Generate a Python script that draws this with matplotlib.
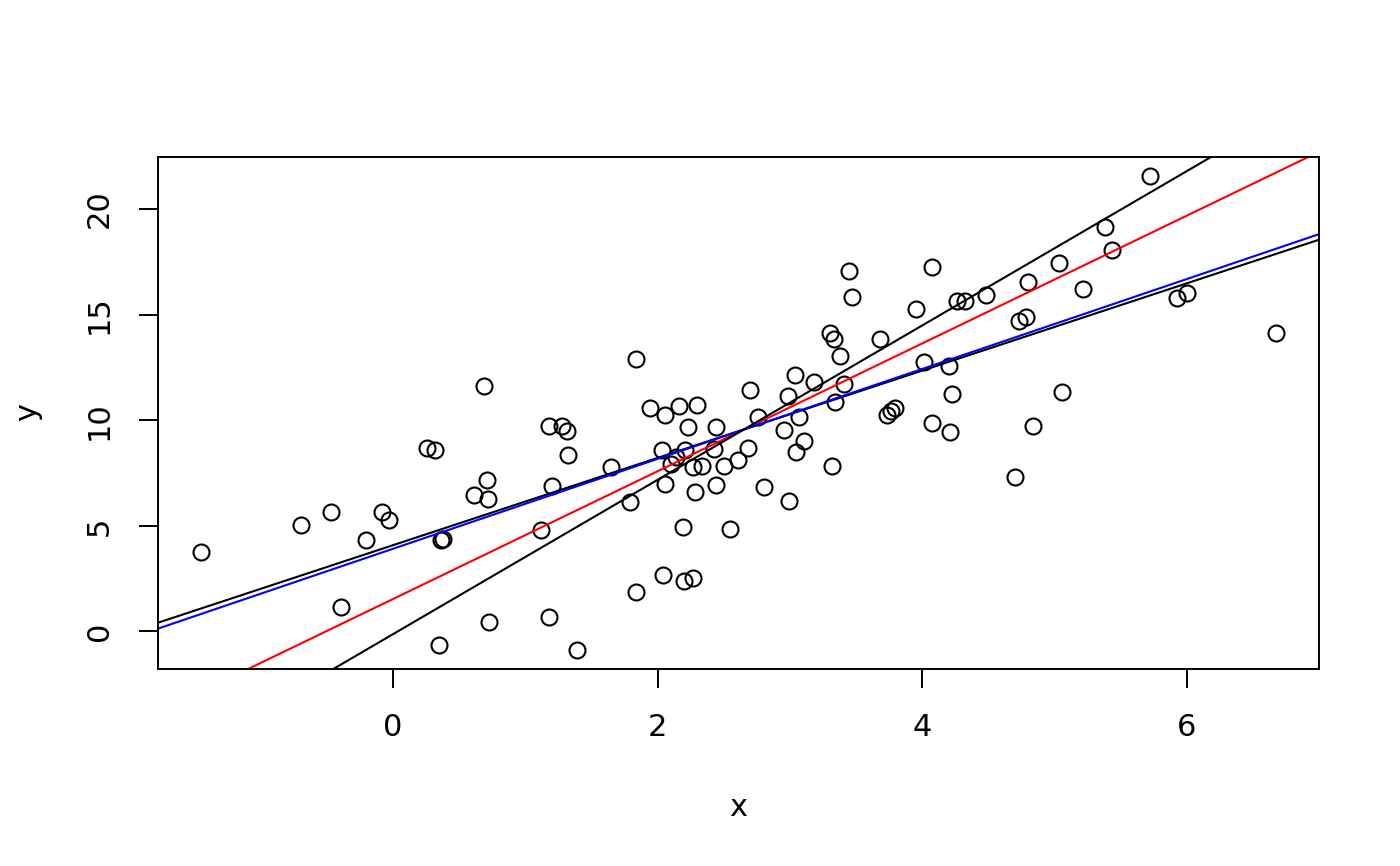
import numpy as np
import matplotlib
matplotlib.use("Agg")
import matplotlib.pyplot as plt

# scatter data
x = np.array([
    -1.449, -0.694, -0.468, -0.395, -0.206, -0.085, -0.030, 0.262, 0.322, 0.347,
    0.366, 0.381, 0.614, 0.687, 0.715, 0.719, 0.730, 1.117, 1.183, 1.177,
    1.202, 1.281, 1.318, 1.326, 1.389, 1.651, 1.791, 1.834, 1.834, 1.942,
    2.030, 2.043, 2.053, 2.060, 2.098, 2.143, 2.161, 2.194, 2.198, 2.211,
    2.229, 2.269, 2.269, 2.282, 2.300, 2.337, 2.425, 2.443, 2.445, 2.500,
    2.546, 2.606, 2.682, 2.697, 2.757, 2.802, 2.958, 2.983, 2.991, 3.042,
    3.049, 3.066, 3.109, 3.180, 3.306, 3.318, 3.331, 3.343, 3.376, 3.411,
    3.444, 3.469, 3.678, 3.734, 3.764, 3.794, 3.955, 4.010, 4.073, 4.073,
    4.199, 4.206, 4.224, 4.262, 4.325, 4.483, 4.697, 4.734, 4.785, 4.796,
    4.840, 5.036, 5.054, 5.217, 5.381, 5.432, 5.721, 5.922, 5.998, 6.672,
])
y = np.array([
    3.78, 5.03, 5.66, 1.17, 4.35, 5.66, 5.26, 8.67, 8.57, -0.65,
    4.35, 4.38, 6.48, 11.60, 7.15, 6.27, 0.47, 4.81, 0.70, 9.74,
    6.87, 9.71, 9.50, 8.37, -0.88, 7.77, 6.13, 12.91, 1.86, 10.58,
    8.57, 2.65, 7.00, 10.25, 7.93, 8.26, 10.69, 4.93, 2.38, 8.61,
    9.66, 7.77, 2.54, 6.61, 10.72, 7.85, 8.64, 9.66, 6.92, 7.82,
    4.87, 8.13, 8.67, 11.44, 10.13, 6.82, 9.52, 11.13, 6.16, 12.15,
    8.48, 10.15, 9.00, 11.83, 14.15, 7.85, 13.84, 10.84, 13.02, 11.71,
    17.04, 15.85, 13.84, 10.23, 10.43, 10.57, 15.27, 12.75, 17.24, 9.87,
    12.58, 9.44, 11.24, 15.62, 15.62, 15.92, 7.30, 14.70, 14.88, 16.52,
    9.72, 17.45, 11.35, 16.19, 19.15, 18.05, 21.56, 15.78, 16.04, 14.15,
])

# fitted lines (intercept, slope, colour)
intercepts = [4.08, 1.53, 3.91, -0.134]
slopes = [2.067, 3.026, 2.129, 3.655]
line_colors = ["black", "red", "blue", "black"]

xticks = [0, 2, 4, 6]
yticks = [0, 5, 10, 15, 20]

fig = plt.figure(figsize=(14, 8.66), dpi=100)
ax = fig.add_axes([158/1400, 1 - 669/866, (1319-158)/1400, (669-157)/866])

ax.plot(x, y, "o", mfc="none", mec="black", ms=11.5, mew=1.5)
for a, b, c in zip(intercepts, slopes, line_colors):
    ax.axline((0, a), slope=b, color=c, lw=1.5)

# R style 4% padding
xr = x.max() - x.min()
yr = y.max() - y.min()
ax.set_xlim(x.min() - 0.04*xr, x.max() + 0.04*xr)
ax.set_ylim(y.min() - 0.04*yr, y.max() + 0.04*yr)

ax.set_xticks(xticks)
ax.set_yticks(yticks)
ax.tick_params(direction="out", length=14, width=1.4, labelsize=22, pad=18)
for lab in ax.get_yticklabels():
    lab.set_rotation(90)
    lab.set_va("center")
for s in ax.spines.values():
    s.set_linewidth(1.4)

fig.text(738/1400, 1 - 807/866, "x", ha="center", va="center", fontsize=22)
fig.text(28/1400, 1 - 412/866, "y", ha="center", va="center", fontsize=22, rotation=90)

fig.savefig("out.png", dpi=100)
